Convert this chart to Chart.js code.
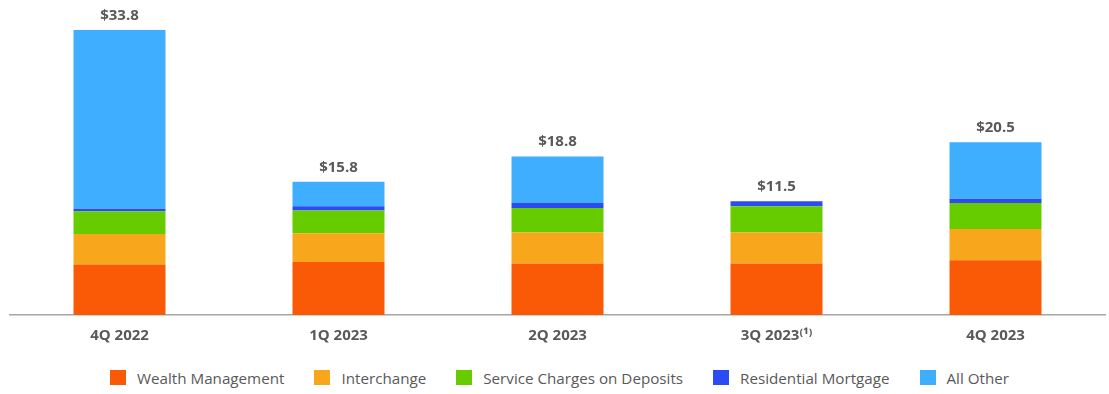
<!DOCTYPE html>
<html>
<head>
    <meta charset="utf-8" />
    <title>Noninterest Income by Quarter</title>
    <script src="https://cdn.jsdelivr.net/npm/chart.js@4/dist/chart.umd.min.js"></script>
    <style>
        html, body { margin: 0; padding: 0; background: #ffffff; }
        .chart-wrap { width: 1109px; height: 364px; position: relative; }
        /* legend sits under the canvas */
        #legend-income {
            width: 1109px; height: 30px; box-sizing: border-box;
            padding-top: 5px; padding-left: 10px;
            display: flex; justify-content: center; align-items: flex-start;
            font-family: 'Open Sans', sans-serif; font-size: 15.2px; color: #595959;
        }
        #legend-income .item { display: flex; align-items: center; height: 17px; margin: 0 15px; }
        #legend-income .box { width: 16px; height: 15px; margin-right: 11px; }
    </style>
</head>
<body>
    <div class="chart-wrap">
        <canvas id="chart-income"></canvas>
    </div>
    <div id="legend-income"></div>

    <script>
      // quarters and fee components ($ millions)
      var quarters = ["4Q 2022", "1Q 2023", "2Q 2023", "3Q 2023⁽¹⁾", "4Q 2023"];
      var wealthManagement = [6.0, 6.3, 6.1, 6.1, 6.5];
      var interchange = [3.6, 3.4, 3.7, 3.7, 3.7];
      var serviceCharges = [2.7, 2.7, 2.9, 3.1, 3.1];
      var residentialMortgage = [0.3, 0.5, 0.6, 0.6, 0.5];
      var allOther = [21.2, 2.9, 5.5, -2.0, 6.7];

      var textGray = "#595959";

      var series = [
        { label: "Wealth Management", data: wealthManagement, color: "#fa5a05" },
        { label: "Interchange", data: interchange, color: "#f8a61c" },
        { label: "Service Charges on Deposits", data: serviceCharges, color: "#66cc00" },
        { label: "Residential Mortgage", data: residentialMortgage, color: "#2b4cf2" },
        { label: "All Other", data: allOther, color: "#40aeff" }
      ];

      // total label over each stack
      var totalLabels = {
        id: "totalLabels",
        afterDatasetsDraw: function (chart) {
          var ctx = chart.ctx;
          var xScale = chart.scales.x;
          var yScale = chart.scales.y;
          ctx.save();
          ctx.font = "bold 15px 'Open Sans'";
          ctx.fillStyle = textGray;
          ctx.textAlign = "center";
          ctx.textBaseline = "bottom";
          quarters.forEach(function (q, i) {
            var total = 0, top = 0;
            chart.data.datasets.forEach(function (ds) {
              total += ds.data[i];
              if (ds.data[i] > 0) top += ds.data[i];
            });
            var x = xScale.getPixelForValue(i);
            var y = yScale.getPixelForValue(top) - 7;
            ctx.fillText("$" + total.toFixed(1), x, y);
          });
          ctx.restore();
        }
      };

      // html legend, built from the chart's own legend items
      var htmlLegend = {
        id: "htmlLegend",
        afterUpdate: function (chart) {
          var el = document.getElementById("legend-income");
          el.innerHTML = "";
          var items = chart.options.plugins.legend.labels.generateLabels(chart);
          items.forEach(function (item) {
            var div = document.createElement("div");
            div.className = "item";
            var box = document.createElement("span");
            box.className = "box";
            box.style.background = item.fillStyle;
            var txt = document.createElement("span");
            txt.textContent = item.text;
            div.appendChild(box);
            div.appendChild(txt);
            el.appendChild(div);
          });
        }
      };

      var ctx = document.getElementById("chart-income").getContext("2d");
      new Chart(ctx, {
        type: "bar",
        data: {
          labels: quarters,
          datasets: series.map(function (s) {
            return {
              label: s.label,
              data: s.data,
              backgroundColor: s.color,
              borderWidth: 0,
              barPercentage: 0.42,
              categoryPercentage: 1.0
            };
          })
        },
        options: {
          responsive: true,
          maintainAspectRatio: false,
          animation: false,
          layout: { padding: { top: 20, left: 10, right: 4, bottom: 7 } },
          plugins: {
            legend: { display: false },
            tooltip: { enabled: false }
          },
          scales: {
            x: {
              stacked: true,
              grid: { display: false, drawTicks: false },
              border: { display: true, color: "#a6a6a6", width: 1.5 },
              ticks: {
                color: textGray,
                padding: 12,
                font: { family: "'Open Sans'", size: 15, weight: "bold" }
              }
            },
            y: {
              stacked: true,
              display: false,
              min: 0,
              max: 35
            }
          }
        },
        plugins: [totalLabels, htmlLegend]
      });
    </script>
</body>
</html>
